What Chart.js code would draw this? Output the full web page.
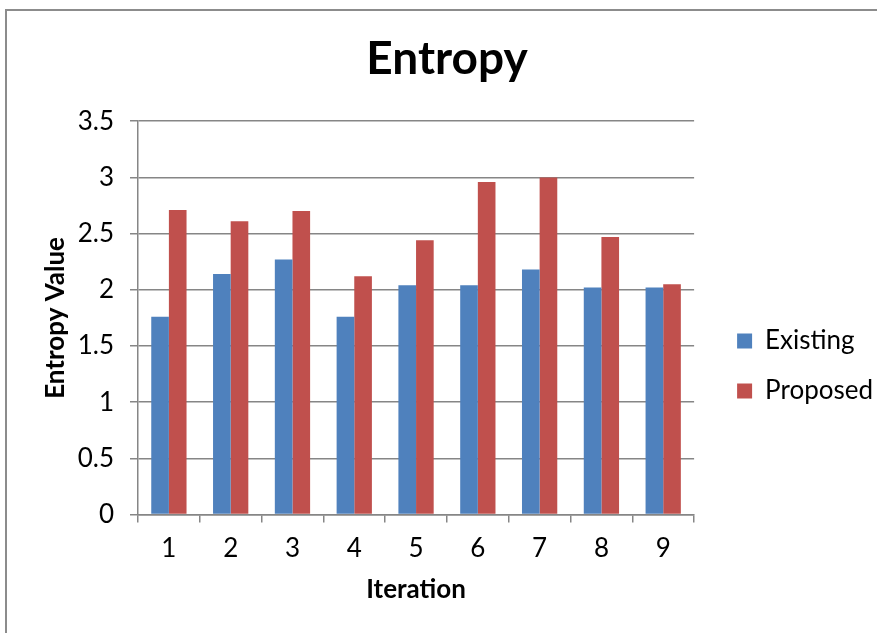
<!DOCTYPE html>
<html>
<head>
<meta charset="utf-8">
<script src="https://cdn.jsdelivr.net/npm/chart.js@4"></script>
<style>
  html, body { margin: 0; padding: 0; background: #fff; }
  #wrap { position: relative; width: 877px; height: 633px; overflow: hidden; }
  #frame { position: absolute; left: 5px; top: 9px; width: 900px; height: 700px;
           border-left: 2px solid #8c8c8c; border-top: 2px solid #8c8c8c; }
  #box { position: absolute; left: 0; top: 0; width: 877px; height: 633px; }
</style>
</head>
<body>
<div id="wrap">
  <div id="frame"></div>
  <div id="box"><canvas id="entropyChart"></canvas></div>
</div>
<script>
// --- data ---
const iterations = ['1', '2', '3', '4', '5', '6', '7', '8', '9'];
const existing = [1.76, 2.14, 2.27, 1.76, 2.04, 2.04, 2.18, 2.02, 2.02];
const proposed = [2.71, 2.61, 2.70, 2.12, 2.44, 2.96, 3.00, 2.47, 2.05];

Chart.defaults.font.family = 'Lato';
Chart.defaults.color = '#000';

const axisGray = '#868686';

const ctx = document.getElementById('entropyChart').getContext('2d');
const chart = new Chart(ctx, {
  type: 'bar',
  data: {
    labels: iterations,
    datasets: [
      { label: 'Existing', data: existing, backgroundColor: '#4F81BD', borderWidth: 0 },
      { label: 'Proposed', data: proposed, backgroundColor: '#C0504D', borderWidth: 0 }
    ]
  },
  options: {
    responsive: true, maintainAspectRatio: false, animation: false,
    datasets: { bar: { categoryPercentage: 0.571, barPercentage: 1 } },
    layout: { padding: { left: 11, right: -6, top: 0, bottom: 28 } },
    plugins: {
      tooltip: { enabled: false },
      title: {
        display: true, text: 'Entropy',
        font: { size: 46, weight: 'bold' },
        padding: { top: 32, bottom: 34 }
      },
      legend: {
        position: 'right',
        maxWidth: 200,
        // empty title only pushes the entries down to where Excel put them
        title: { display: true, text: '', font: { size: 10 }, padding: { top: 115, bottom: 0 } },
        labels: { boxWidth: 15, boxHeight: 15, padding: 24, font: { size: 26 } }
      }
    },
    scales: {
      x: {
        grid: { display: true, drawOnChartArea: false, tickLength: 8, color: axisGray, lineWidth: 1.5 },
        border: { color: axisGray, width: 1.5 },
        ticks: { font: { size: 26 }, padding: 10 },
        title: { display: true, text: 'Iteration', font: { size: 26, weight: 'bold' }, padding: { top: 0, bottom: 0 } }
      },
      y: {
        min: 0, max: 3.5,
        grid: { color: axisGray, lineWidth: 1.5, tickLength: 8 },
        border: { color: axisGray, width: 1.5 },
        ticks: { stepSize: 0.5, font: { size: 26 }, padding: 16, callback: v => String(v) },
        title: { display: true, text: 'Entropy Value', font: { size: 26, weight: 'bold' }, padding: { top: 29, bottom: 0 } },
        afterFit: s => { s.width = 127; }
      },
      gap: {
        // spacer between plot and legend
        position: 'right', display: true,
        grid: { display: false }, border: { display: false }, ticks: { display: false },
        afterFit: s => { s.width = 19; }
      }
    }
  }
});
</script>
</body>
</html>
